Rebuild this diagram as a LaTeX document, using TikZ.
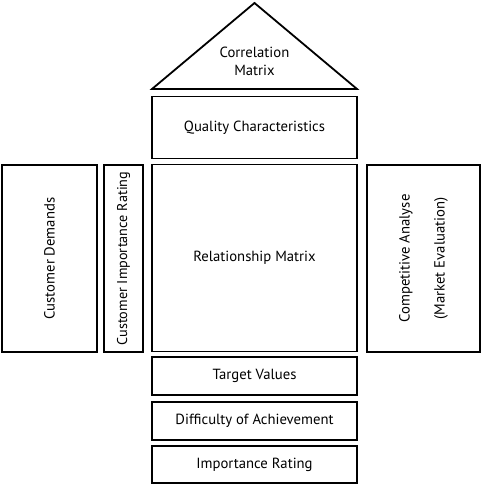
\documentclass[tikz,border=0pt]{standalone}
\usepackage{fontspec}
\setmainfont{PT Sans}
\begin{document}
\begin{tikzpicture}[x=1pt,y=-1pt,
      box/.style={rectangle,draw,line width=1.8pt,inner sep=0pt,
        font=\fontsize{14.7}{18}\selectfont,align=center}]
      \useasboundingbox (0,0) rectangle (481,485);
      % roof
      \coordinate (Top) at (254.5,3); \coordinate (BL) at (152,89);
      \coordinate (BR) at (357,89);
      \draw[line width=1.8pt,line join=miter] (BL) -- (Top) -- (BR) -- cycle;
      \node[align=center,font=\fontsize{14.7}{18}\selectfont] (Corr)
      at (254.5,61) {Correlation\\Matrix};
      % middle column
      \node[box,minimum width=205,minimum height=62] (Qual)
      at (254.5,127.5) {Quality Characteristics};
      \node[box,minimum width=205,minimum height=187] (Rel)
      at (254.5,258) {Relationship Matrix};
      \node[box,minimum width=205,minimum height=38] (Targ)
      at (254.5,376) {Target Values};
      \node[box,minimum width=205,minimum height=38] (Diff)
      at (254.5,421) {Difficulty of Achievement};
      \node[box,minimum width=205,minimum height=37] (Imp)
      at (254.5,464.5) {Importance Rating};
      % left and right walls
      \node[box,minimum width=95,minimum height=187] (Dem)
      at (49.5,258.5) {};
      \node[rotate=90,font=\fontsize{14.7}{18}\selectfont] at (Dem)
      {Customer Demands};
      \node[box,minimum width=39,minimum height=187] (CIR)
      at (123.5,258.5) {};
      \node[rotate=90,font=\fontsize{14.2}{18}\selectfont] at (CIR)
      {Customer Importance Rating};
      \node[box,minimum width=113,minimum height=187] (Comp)
      at (423.5,258.5) {};
      \node[rotate=90,align=center,font=\fontsize{14.7}{35}\selectfont]
      at (Comp) {Competitive Analyse\\(Market Evaluation)};
    \end{tikzpicture}
\end{document}
